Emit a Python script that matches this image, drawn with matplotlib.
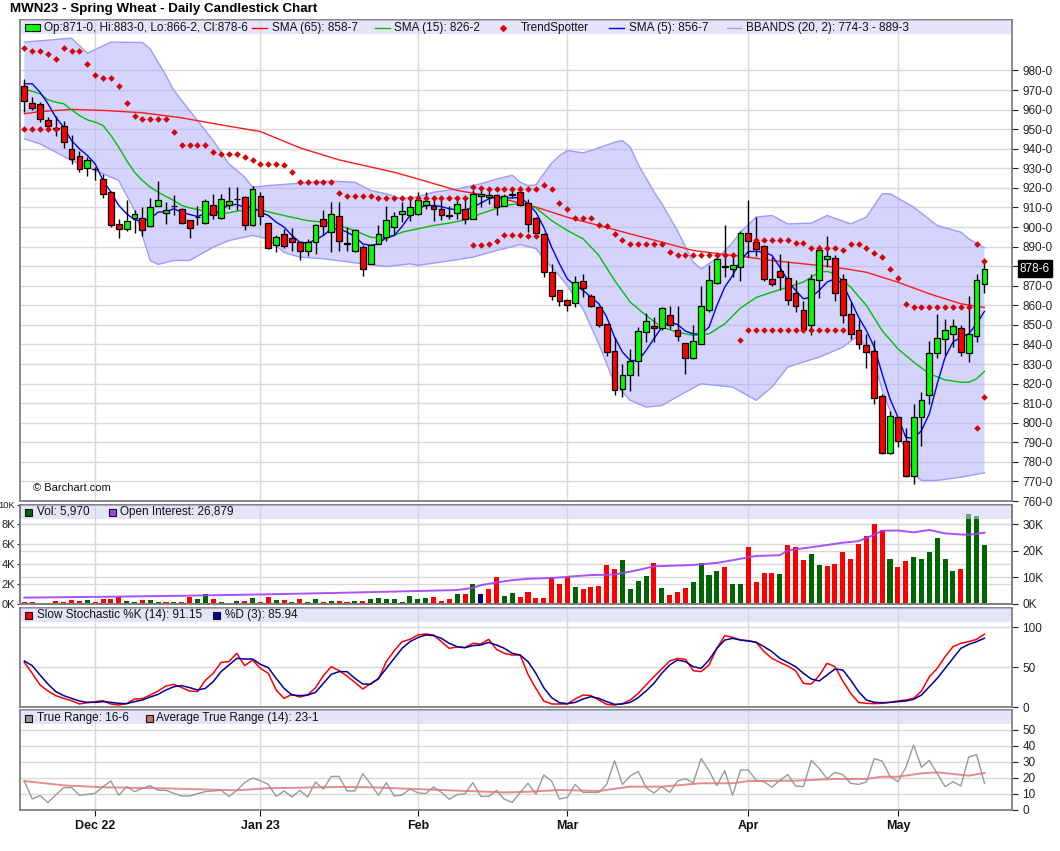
import numpy as np
import pandas as pd
import matplotlib
matplotlib.use("Agg")
import matplotlib.pyplot as plt
from matplotlib.patches import Rectangle
from matplotlib.lines import Line2D

plt.rcParams['font.family'] = ['Liberation Sans', 'DejaVu Sans']

# ---- data ----
holidays = ["2022-11-24", "2022-12-26", "2023-01-02", "2023-01-16", "2023-02-20", "2023-04-07"]
dates = pd.bdate_range("2022-11-17", "2023-05-16", freq="C", holidays=holidays)
month_labels = ["Dec 22", "Jan 23", "Feb", "Mar", "Apr", "May"]

opens = [972.3, 963.5, 963.0, 954.8, 950.4, 951.7, 940.0, 936.2, 930.3, 929.7,
         924.6, 917.8, 901.6, 899.1, 904.7, 904.7, 900.3, 910.8, 907.3, 910.7,
         909.3, 903.7, 905.2, 902.1, 911.3, 904.7, 911.2, 914.2, 915.3, 901.0,
         916.1, 902.2, 890.9, 896.5, 894.5, 892.6, 888.0, 892.3, 904.2, 897.4,
         905.7, 891.1, 887.5, 889.7, 881.2, 891.4, 894.8, 899.9, 906.8, 906.2,
         906.8, 911.4, 910.5, 909.3, 906.4, 907.1, 909.1, 904.2, 916.0, 915.6,
         916.5, 910.8, 916.4, 917.8, 912.4, 904.7, 896.5, 876.9, 867.6, 862.8,
         861.3, 872.3, 864.7, 859.1, 850.5, 836.8, 817.3, 824.5, 831.3, 846.6,
         849.2, 848.3, 855.0, 847.5, 840.8, 833.2, 840.3, 857.4, 871.3, 879.5,
         878.7, 879.5, 897.2, 892.6, 890.4, 873.5, 877.6, 874.1, 866.4, 857.7,
         849.7, 872.7, 883.6, 884.3, 873.5, 855.7, 847.5, 839.8, 836.8, 813.6,
         784.5, 802.9, 790.6, 772.9, 802.9, 814.3, 835.5, 842.9, 845.4, 848.5,
         835.7, 844.2, 871.0]
highs = [975.7, 966.7, 963.8, 956.1, 956.5, 954.1, 946.8, 938.8, 935.7, 930.9,
         927.2, 918.2, 904.2, 913.6, 908.9, 910.2, 914.8, 923.3, 912.7, 916.5,
         909.5, 903.8, 910.5, 914.4, 917.0, 917.0, 920.4, 920.4, 916.1, 920.9,
         917.8, 902.2, 895.7, 899.1, 899.4, 892.6, 894.0, 901.6, 908.5, 912.7,
         912.7, 900.0, 899.1, 890.6, 891.4, 900.8, 911.0, 907.6, 912.7, 914.4,
         917.8, 917.8, 915.3, 913.6, 911.0, 916.1, 913.6, 918.7, 919.5, 918.7,
         917.0, 917.0, 919.5, 921.2, 914.4, 905.1, 896.9, 881.2, 867.6, 863.3,
         875.2, 875.8, 865.9, 859.4, 850.5, 843.7, 830.1, 837.8, 848.8, 856.0,
         854.0, 859.1, 859.9, 859.9, 840.8, 849.7, 870.1, 880.4, 886.3, 900.8,
         886.3, 898.2, 913.6, 905.1, 890.6, 884.6, 886.3, 882.9, 872.7, 862.0,
         876.1, 890.6, 895.2, 885.8, 876.1, 861.6, 852.3, 845.4, 842.4, 814.8,
         805.8, 802.9, 797.4, 809.7, 815.6, 841.7, 855.7, 853.1, 853.1, 849.7,
         865.0, 876.1, 883.0]
lows = [958.7, 959.6, 953.6, 950.2, 946.3, 940.5, 932.3, 928.0, 926.3, 923.8,
        914.9, 900.0, 894.3, 898.2, 896.9, 895.3, 900.0, 910.7, 901.6, 905.9,
        901.5, 894.3, 900.8, 901.6, 904.2, 904.2, 909.3, 908.5, 898.6, 900.6,
        900.8, 888.9, 887.2, 889.4, 888.0, 883.3, 885.1, 886.3, 895.7, 887.2,
        888.0, 887.7, 887.2, 875.2, 880.9, 891.1, 893.1, 895.7, 902.5, 903.3,
        906.2, 909.3, 903.3, 903.7, 904.2, 904.2, 901.3, 903.9, 910.2, 911.9,
        905.9, 910.5, 915.3, 910.5, 897.4, 894.8, 874.7, 862.5, 859.9, 857.0,
        859.1, 864.5, 859.1, 848.8, 833.9, 814.4, 813.4, 816.1, 824.1, 841.2,
        841.2, 847.5, 848.0, 842.0, 824.7, 832.7, 840.0, 856.5, 871.0, 874.4,
        874.4, 872.3, 884.6, 885.0, 872.3, 869.8, 867.6, 860.3, 856.5, 846.3,
        844.6, 863.7, 879.5, 862.1, 850.9, 842.9, 837.8, 828.1, 809.7, 784.1,
        784.1, 787.5, 772.5, 768.8, 787.9, 809.7, 833.0, 834.4, 838.6, 833.9,
        831.0, 841.2, 866.25]
closes = [964.3, 960.9, 955.3, 951.7, 950.2, 943.5, 934.7, 929.7, 934.3, 929.5,
          917.0, 900.8, 899.1, 903.2, 906.7, 898.6, 910.2, 913.9, 908.8, 910.5,
          902.1, 899.6, 905.0, 913.4, 906.2, 914.4, 913.3, 914.4, 901.0, 919.5,
          905.4, 889.2, 894.8, 890.4, 892.3, 888.0, 892.6, 901.1, 900.4, 906.7,
          893.0, 892.0, 898.6, 878.6, 890.9, 896.5, 903.7, 905.7, 908.4, 910.3,
          913.9, 913.2, 909.3, 906.4, 905.4, 911.9, 904.2, 917.0, 917.0, 916.6,
          910.0, 916.0, 916.5, 911.4, 901.6, 897.0, 876.9, 864.9, 862.1, 860.3,
          872.0, 868.9, 859.4, 850.0, 836.1, 816.8, 824.5, 831.3, 847.0, 851.9,
          848.3, 858.7, 849.7, 844.1, 833.3, 841.7, 859.7, 873.0, 883.8, 879.6,
          880.7, 897.2, 892.8, 888.9, 873.4, 870.8, 874.7, 862.8, 859.7, 848.0,
          873.2, 888.4, 885.3, 866.2, 855.3, 845.4, 840.3, 836.1, 812.7, 784.5,
          803.4, 790.9, 772.9, 802.9, 811.7, 835.7, 843.4, 847.5, 849.2, 836.1,
          845.4, 873.0, 878.75]

sma5 = [973.2, 973.2, 968.9, 963.0, 956.1, 951.0, 944.2, 940.0, 936.6, 932.3,
        923.8, 917.8, 911.0, 906.8, 903.7, 903.0, 904.2, 907.6, 907.9, 909.3,
        907.6, 906.4, 905.4, 906.8, 906.4, 908.5, 911.5, 911.5, 910.2, 910.2,
        907.6, 905.9, 902.5, 900.0, 895.7, 892.3, 891.8, 893.5, 895.7, 899.1,
        899.1, 897.4, 895.2, 891.4, 890.6, 891.4, 894.8, 895.7, 900.3, 905.9,
        909.3, 911.0, 911.0, 910.5, 909.3, 908.8, 908.5, 910.2, 912.2, 914.4,
        915.3, 914.9, 914.8, 915.3, 911.9, 907.6, 899.9, 889.7, 881.2, 873.5,
        870.1, 867.6, 864.2, 860.8, 854.0, 843.7, 836.1, 831.8, 831.8, 836.9,
        842.9, 848.8, 851.4, 850.2, 846.8, 845.4, 845.4, 848.8, 859.9, 869.3,
        875.2, 882.9, 887.5, 887.6, 887.2, 885.5, 879.5, 872.7, 867.6, 863.3,
        864.2, 867.6, 871.9, 873.5, 871.0, 862.5, 854.0, 847.1, 838.6, 825.0,
        812.2, 802.9, 792.6, 791.8, 796.0, 804.6, 819.9, 833.5, 841.2, 843.7,
        845.4, 850.5, 856.875]

sma15_idx = [0, 2, 3, 4, 5, 6, 7, 8, 9, 10, 11, 12, 13, 14, 15, 16, 17, 18, 19, 20,
             21, 22, 23, 24, 25, 26, 27, 28, 29, 30, 32, 34, 36, 38, 40, 42, 44, 46, 48, 50,
             52, 54, 56, 58, 60, 61, 63, 65, 67, 69, 71, 73, 75, 77, 79, 81, 83, 85, 87, 89,
             91, 93, 95, 97, 99, 101, 102, 103, 105, 107, 109, 111, 113, 115, 117, 119, 120, 121, 122]
sma15_val = [970.6, 968.1, 965.0, 963.8, 963.0, 959.9, 957.0, 954.8, 953.6, 951.9,
             946.8, 940.8, 934.0, 928.0, 923.8, 920.4, 917.8, 915.6, 913.6, 911.0,
             909.8, 909.0, 908.0, 907.1, 906.8, 907.3, 908.1, 908.5, 908.8, 908.8,
             906.8, 905.0, 903.3, 902.5, 900.8, 898.2, 894.8, 894.0, 897.4, 899.1,
             900.8, 902.0, 903.7, 906.8, 909.5, 911.0, 912.0, 909.8, 903.3, 898.2,
             894.0, 885.5, 872.7, 861.6, 854.8, 848.8, 846.3, 844.6, 845.4, 850.5,
             858.6, 864.0, 866.7, 869.3, 871.9, 876.9, 877.3, 876.1, 869.3, 859.9,
             847.1, 837.8, 831.0, 825.0, 821.9, 820.7, 820.7, 822.4, 826.25]

sma65_idx = [0, 2, 6, 10, 15, 20, 25, 30, 35, 40, 47, 50, 55, 60, 65, 69, 73, 77, 81, 85,
             89, 91, 95, 99, 103, 107, 111, 115, 119, 122]
sma65_val = [957.9, 959.0, 960.1, 959.6, 958.4, 955.8, 952.2, 948.8, 940.5, 934.3,
             928.0, 924.6, 918.7, 915.3, 910.2, 905.0, 900.8, 896.5, 892.3, 888.0,
             886.0, 885.1, 882.9, 881.2, 879.5, 876.9, 871.8, 865.9, 860.8, 858.875]

bb_up_idx = [0, 6, 8, 11, 15, 16, 18, 19, 21, 24, 26, 28, 29, 31, 35, 39, 42, 44, 46, 48,
             50, 52, 55, 58, 60, 62, 63, 64, 65, 66, 67, 68, 69, 71, 72, 75, 76, 77, 78, 80,
             81, 83, 85, 86, 88, 90, 91, 93, 95, 97, 100, 102, 105, 107, 109, 110, 113, 116, 119, 120,
             122]
bb_up_val = [994.5, 996.5, 988.8, 994.5, 994.3, 991.0, 977.4, 969.8, 959.5, 944.2,
             932.3, 925.5, 920.4, 921.2, 922.4, 923.5, 922.9, 918.7, 917.0, 914.4,
             915.6, 917.8, 919.5, 922.1, 924.5, 926.5, 922.9, 921.2, 921.5, 927.2,
             932.6, 936.5, 939.1, 937.9, 939.1, 943.3, 944.2, 940.8, 932.0, 918.0,
             912.0, 898.0, 882.0, 878.6, 884.0, 892.0, 897.4, 905.1, 905.9, 901.6,
             902.0, 905.9, 901.6, 905.1, 917.0, 917.0, 910.2, 900.8, 897.4, 894.0,
             889.375]
bb_lo_idx = [0, 2, 6, 9, 12, 14, 16, 17, 19, 21, 24, 26, 29, 31, 33, 35, 38, 43, 46, 49,
             50, 53, 57, 60, 63, 65, 66, 68, 69, 71, 73, 75, 77, 79, 81, 84, 86, 90, 93, 95,
             97, 99, 101, 104, 106, 108, 109, 111, 113, 114, 116, 119, 122]
bb_lo_val = [945.1, 942.5, 934.0, 928.9, 923.8, 908.5, 882.9, 880.9, 882.9, 882.9,
             889.7, 893.1, 895.7, 894.0, 887.0, 884.6, 883.8, 881.2, 879.8, 881.2,
             880.4, 882.1, 884.6, 888.0, 891.0, 889.0, 884.0, 875.0, 870.0, 858.0,
             840.3, 819.9, 811.4, 808.0, 808.8, 815.6, 819.9, 818.2, 811.5, 818.2,
             828.4, 831.0, 833.5, 838.6, 844.6, 831.8, 816.5, 796.0, 773.9, 770.5,
             770.5, 772.2, 774.375]

# TrendSpotter dots (None = no dot on that day)
ts_hi = [991.6, 990.2, 990.2, 988.2, 986.0, 991.6, 990.2, 990.2, 983.4, 977.8,
         976.2, 976.2, 972.2, 963.5, 956.8, 955.3, 955.3, 955.3, 955.3, 948.6,
         942.0, 942.0, 942.0, 942.0, 938.4, 937.4, 937.4, 937.4, 935.7, 934.3,
         932.3, 932.3, 932.3, 931.8, 928.0, 922.9, 922.9, 922.9, 922.9, 922.9,
         917.3, 916.0, 916.0, 916.0, 916.0, 914.9, 914.9, 914.9, 914.9, 914.9,
         914.9, 914.9, 914.9, 914.9, 914.9, 914.9, 914.9, 920.7, 920.0, 919.5,
         919.5, 919.5, 919.5, 919.5, 919.5, 919.2, 921.6, 919.2, 912.4, 909.3,
         904.7, 904.7, 904.7, 901.1, 900.5, 896.2, 893.5, 891.4, 891.4, 891.4,
         891.4, 891.4, 887.3, 885.8, 885.8, 885.8, 885.8, 885.8, 885.8, 885.8,
         885.8, None, None, 893.5, 893.5, 893.5, 893.5, 893.5, 891.9, 891.9,
         889.4, 889.4, 889.4, 889.4, 888.4, 891.1, 891.1, 889.4, 886.8, 884.9,
         878.7, 874.1, 860.8, 859.3, 859.3, 859.3, 859.3, 859.3, 859.3, 859.3,
         859.3, 891.4, 882.9]
ts_lo = [950.2, 950.2, 950.2, 950.2, 950.2] + [None] * 52 + \
        [890.6, 890.6, 891.5, 893.1, 895.7, 895.7, 895.7, 895.5, 895.5] + [None] * 25 + \
        [842.4] + [847.5] * 13 + [None] * 16 + [797.4, 813.1]

volume = [200, 200, 100, 100, 300, 200, 400, 300, 400, 200,
          500, 500, 730, 300, 200, 400, 400, 200, 200, 200,
          200, 730, 500, 1000, 500, 200, 100, 300, 300, 600,
          200, 700, 400, 400, 200, 500, 200, 500, 200, 300,
          300, 200, 300, 300, 500, 600, 500, 500, 200, 800,
          500, 600, 700, 300, 500, 1000, 1000, 2000, 1000, 1500,
          2700, 800, 1100, 700, 1200, 570, 570, 2600, 2000, 2730,
          1700, 1500, 1700, 1800, 3900, 3500, 4400, 1500, 2300, 2800,
          4100, 1600, 900, 1200, 1600, 2200, 4100, 2900, 3300, 3700,
          2000, 2000, 5700, 2200, 3100, 3100, 3000, 5900, 5700, 4400,
          5000, 3900, 3800, 4000, 5200, 4500, 6000, 6800, 8000, 7400,
          4500, 3700, 4300, 4700, 4500, 5200, 6600, 4500, 3300, 3500,
          9000, 8800, 5970]
vol_dir = ("rrrrrrrrgr" "rrrggrggrg" "rrggrgrgrg" "rrgrgrggrg" "rrgrgggggg"
           "ggrrrgrgnr" "rggrr" "rrrrrgrrrr" "rggggrgrrr" "ggggrggrrr"
           "rgrrrggrrr" "rrrrrgrrgg" "ggggrggg")

oi_idx = [0, 11, 20, 30, 40, 50, 55, 57, 58, 60, 62, 64, 66, 68, 70, 72, 75, 78, 80, 85,
          88, 90, 92, 93, 96, 97, 99, 101, 104, 106, 108, 109, 111, 113, 115, 117, 119, 120, 122]
oi_val = [2400, 2750, 3100, 3600, 4200, 4900, 5250, 6100, 7100, 8100,
          9000, 9500, 9700, 10000, 10500, 10900, 11100, 12800, 14200, 14700,
          15500, 16500, 17600, 18100, 18400, 20200, 21000, 21800, 23100, 23700,
          26100, 27600, 27700, 27000, 27900, 26600, 26200, 26100, 26879]

stoch_k = [55.8, 42.1, 27.5, 20, 14.2, 10.8, 7.9, 3.75, 5.4, 6.7,
           7.9, 3.75, 2.5, 4.2, 10, 10.4, 15, 20, 26.25, 28.3,
           24.2, 20, 19.2, 33.3, 42.1, 55.8, 56.7, 67.1, 51.7, 58.75,
           48.3, 42.1, 21.25, 10.8, 15.8, 12.5, 15, 24.2, 39.2, 50.4,
           45.4, 38.75, 30.8, 22.5, 29.2, 35, 56.7, 70.4, 81.7, 84.6,
           90, 91.25, 90, 81.7, 73.3, 75, 74.2, 79.6, 78.75, 84.6,
           72.1, 67.1, 65, 65, 40.8, 23.3, 7.5, 3.75, 3.75, 3.75,
           10, 15, 14.2, 8.75, 3.3, 2.5, 4.2, 8.75, 17, 27.5,
           37.9, 47.5, 57.5, 60.8, 59.6, 45.4, 44.2, 52.5, 73.3, 89.2,
           87.1, 83.75, 82.9, 80.8, 69.2, 60.8, 55.8, 51.25, 45.4, 29.6,
           28.75, 39.2, 54.6, 50.4, 32.5, 17, 5.8, 4.6, 4.2, 4.6,
           5.8, 7.5, 8.75, 10.8, 20, 37.9, 48.3, 62.9, 75.4, 79.6,
           81.7, 84.6, 91.15]
stoch_d = [57.5, 51.7, 40, 28.75, 19.2, 14.2, 10.8, 7.5, 5.8, 5.8,
           6.7, 5.8, 4.6, 4.2, 6.7, 8.75, 12.5, 15.8, 21.25, 25.4,
           26.7, 24.2, 21.25, 23.3, 31.7, 44.2, 52.5, 60.8, 60, 60,
           53.3, 49.2, 35.8, 23.3, 15, 14.2, 15, 18.3, 29.6, 40.8,
           44.2, 44.2, 35.8, 28.75, 28.3, 35.8, 48.3, 60.8, 73.3, 81.7,
           86.7, 90, 89.2, 85.8, 79.6, 75.4, 74.2, 76.7, 77.5, 80.8,
           77.5, 73.3, 67.1, 65, 56.7, 42.1, 24.2, 11.7, 5.4, 4.2,
           5.8, 10, 12.9, 10.8, 6.7, 3.3, 3.75, 5.8, 11.7, 20,
           29.6, 42.1, 52.5, 58.75, 56.7, 50.4, 48.3, 58.75, 73.3, 83.75,
           85.8, 83.75, 82.5, 80.8, 75.4, 69.2, 60.8, 55.8, 50.4, 42.1,
           35, 32.5, 40, 47.5, 46.25, 33.75, 19.2, 8.75, 5.8, 5.4,
           5.8, 6.7, 7.5, 9.6, 15, 25.4, 35.8, 48.3, 60.8, 73.3,
           78.3, 81.7, 85.94]

true_range = [18.1, 6.9, 9.0, 4.6, 9.4, 14.0, 14.0, 9.2, 9.8, 10.4,
              14.6, 18.1, 9.2, 14.6, 11.5, 13.5, 15.2, 12.3, 12.3, 10.4,
              8.75, 8.75, 10.2, 11.5, 11.9, 12.3, 8.5, 12.3, 17.1, 20.0,
              18.3, 16.0, 8.5, 11.9, 8.1, 12.3, 8.1, 17.5, 13.1, 21.0,
              21.0, 11.9, 11.9, 22.7, 16.25, 9.2, 17.1, 8.75, 9.4, 13.1,
              10.8, 10.2, 14.4, 11.0, 6.7, 9.6, 10.2, 17.1, 8.5, 8.5,
              12.3, 6.7, 4.8, 11.0, 16.7, 9.8, 21.9, 18.1, 6.9, 7.9,
              16.0, 11.0, 11.0, 11.0, 16.0, 30.8, 16.0, 21.25, 24.2, 14.0,
              10.6, 14.6, 11.0, 18.1, 19.6, 17.1, 32.1, 24.6, 15.2, 24.6,
              9.2, 25.0, 25.0, 18.5, 17.7, 14.2, 18.5, 22.1, 15.0, 14.6,
              31.0, 26.0, 19.6, 23.5, 22.1, 16.7, 16.0, 17.5, 32.1, 30.6,
              21.0, 17.7, 26.5, 40.6, 26.7, 31.0, 22.7, 14.6, 17.7, 15.0,
              33.1, 34.6, 16.75]
atr_idx = [0, 5, 10, 18, 27, 31, 40, 44, 53, 61, 64, 68, 73, 77, 81, 86, 90, 92, 98, 103,
           107, 109, 111, 114, 116, 120, 122]
atr_val = [18.1, 15.4, 14.2, 13.5, 12.3, 13.6, 14.4, 14.2, 12.5, 11.0,
           11.4, 12.5, 11.9, 14.6, 14.6, 16.7, 16.7, 18.1, 18.3, 19.4,
           19.4, 20.8, 20.8, 22.9, 23.5, 21.5, 23.125]


def q8(v):
    # grain quote in eighths: 878.75 -> "878-6"
    whole = int(np.floor(v + 1e-9))
    return f"{whole}-{int(round((v - whole) * 8))}"


W, H = 1060, 851
L, R = 20, 1012
GRID = '#d9d9d9'
SPINE = '#808080'
x = np.arange(len(dates))
month_pos = [i for i in range(1, len(dates)) if dates[i].month != dates[i - 1].month]


def fx(px):
    return px / W


def fy(py):
    return 1 - py / H


fig = plt.figure(figsize=(10.6, 8.51), dpi=100)


def panel(top, bottom):
    ax = fig.add_axes([fx(L), fy(bottom), (R - L) / W, (bottom - top) / H])
    ax.set_xlim(-0.55, 125.5)
    ax.set_xticks(month_pos)
    ax.set_axisbelow(True)
    ax.grid(True, color=GRID, lw=1)
    for s in ax.spines.values():
        s.set_color(SPINE)
        s.set_linewidth(1.3)
    ax.tick_params(axis='x', length=0, labelbottom=False)
    ax.tick_params(axis='y', labelsize=8.5, length=4, colors='#222222', direction='out')
    return ax


ax_p = panel(20, 501)
ax_v = panel(504.5, 604)
ax_s = panel(608, 707)
ax_t = panel(710, 810)

# ---- price panel ----
ax_p.set_ylim(760, 1005.8)
pticks = list(range(760, 990, 10))
ax_p.yaxis.tick_right()
ax_p.set_yticks(pticks)
# the last-price tag sits over the nearest tick label, as on the site
ax_p.set_yticklabels(["" if abs(t - closes[-1]) < 5 else f"{t}-0" for t in pticks])

ax_p.fill(list(bb_up_idx) + bb_lo_idx[::-1], list(bb_up_val) + bb_lo_val[::-1],
          color='#aaaaff', alpha=0.5, lw=0, zorder=1)
ax_p.plot(bb_up_idx, bb_up_val, color='#9c9cf4', lw=1, zorder=1.5)
ax_p.plot(bb_lo_idx, bb_lo_val, color='#9c9cf4', lw=1, zorder=1.5)
ax_p.plot(sma65_idx, sma65_val, color='#ff1a1a', lw=1, zorder=2)
ax_p.plot(sma15_idx, sma15_val, color='#00c000', lw=1, zorder=2)
ax_p.plot(x, sma5, color='#0000ee', lw=1, zorder=2)

o = np.array(opens)
c = np.array(closes)
up = c >= o
ax_p.vlines(x, lows, highs, color='black', lw=1, zorder=3)
body_h = np.maximum(np.abs(c - o), 0.35)
ax_p.bar(x, body_h, bottom=np.minimum(o, c), width=0.74,
         color=np.where(up, '#00ff00', '#ff0000'), edgecolor='black', linewidth=0.9, zorder=3.5)

ts_hi_y = [np.nan if v is None else v for v in ts_hi]
ts_lo_y = [np.nan if v is None else v for v in ts_lo]
ax_p.plot(x, ts_hi_y, ls='none', marker='D', ms=2.9, color='#e00000', mec='#c00000', mew=0.4, zorder=4)
ax_p.plot(x, ts_lo_y, ls='none', marker='D', ms=2.9, color='#e00000', mec='#c00000', mew=0.4, zorder=4)

ax_p.text(1.008, closes[-1], q8(closes[-1]), transform=ax_p.get_yaxis_transform(),
          color='white', fontsize=8.5, va='center', ha='left', zorder=10, clip_on=False,
          bbox=dict(boxstyle='square,pad=0.2', fc='black', ec='black'))
fig.text(fx(33), fy(488), "\u00a9 Barchart.com", fontsize=8, va='center', ha='left', color='#111111')

# ---- volume / open interest ----
vcol = {'g': '#006400', 'r': '#ff0000', 'n': '#000080'}
ax_v.bar(x, volume, width=0.64, color=[vcol[d] for d in vol_dir], zorder=2)
ax_v.set_ylim(0, 10000)
vticks = [0, 2000, 4000, 6000, 8000, 10000]
ax_v.set_yticks(vticks)
ax_v.set_yticklabels([f"{t // 1000}K" for t in vticks])
ax_v.tick_params(axis='y', labelsize=8, length=2.5, pad=0.8)
ax_v.get_yticklabels()[-1].set_fontsize(6.8)
ax_oi = ax_v.twinx()
ax_oi.set_ylim(0, 37500)
oticks = [0, 10000, 20000, 30000]
ax_oi.set_yticks(oticks)
ax_oi.set_yticklabels([f"{t // 1000}K" for t in oticks])
ax_oi.tick_params(axis='y', labelsize=8.5, length=4, colors='#222222')
for s in ax_oi.spines.values():
    s.set_color(SPINE)
    s.set_linewidth(1.3)
for t in oticks[1:]:
    ax_v.axhline(t * 10000 / 37500, color=GRID, lw=1, zorder=0)
ax_oi.plot(oi_idx, oi_val, color='#a040f8', lw=1.4, alpha=0.9)

# ---- slow stochastic ----
ax_s.set_ylim(0, 123.75)
ax_s.yaxis.tick_right()
ax_s.set_yticks([0, 50, 100])
ax_s.plot(x, stoch_k, color='#ff0000', lw=1.1)
ax_s.plot(x, stoch_d, color='#000099', lw=1.1)

# ---- true range ----
ax_t.set_ylim(0, 62.5)
ax_t.yaxis.tick_right()
ax_t.set_yticks([0, 10, 20, 30, 40, 50])
ax_t.plot(x, true_range, color='#999999', lw=1)
ax_t.plot(atr_idx, atr_val, color='#e07070', lw=1.4, alpha=0.8)
ax_t.set_xticklabels(month_labels)
ax_t.tick_params(axis='x', length=4, labelbottom=True, labelsize=9, colors='#111111')
for lab in ax_t.get_xticklabels():
    lab.set_fontweight('bold')

# ---- title and legend strips ----
fig.text(fx(10), fy(9), "MWN23 - Spring Wheat - Daily Candlestick Chart",
         fontsize=9.6, fontweight='bold', va='center', ha='left')


def strip(top):
    fig.add_artist(Rectangle((fx(L + 0.7), fy(top + 14)), (R - L - 1.4) / W, 14 / H,
                             transform=fig.transFigure, fc='#d0d0f6', ec='none', alpha=0.55, zorder=2))


def txt(px, py, s):
    fig.text(fx(px), fy(py), s, fontsize=8.5, va='center', ha='left', zorder=4, color='#111111')


def box(px, py, color, w=7, h=7):
    fig.add_artist(Rectangle((fx(px), fy(py + h / 2)), w / W, h / H, transform=fig.transFigure,
                             fc=color, ec='#111111', lw=0.8, zorder=4))


def seg(px0, px1, py, color):
    fig.add_artist(Line2D([fx(px0), fx(px1)], [fy(py), fy(py)], transform=fig.transFigure,
                          color=color, lw=1, zorder=4))


for top in (20, 505, 608, 710):
    strip(top)

box(25, 27.5, '#00ff00', w=15)
txt(44, 28, f"Op:{q8(opens[-1])}, Hi:{q8(highs[-1])}, Lo:{q8(lows[-1])}, Cl:{q8(closes[-1])}")
seg(252, 267, 28, '#ff0000')
txt(272, 28, f"SMA (65): {q8(sma65_val[-1])}")
seg(375, 390, 28, '#00c000')
txt(394, 28, f"SMA (15): {q8(sma15_val[-1])}")
fig.add_artist(Line2D([fx(503)], [fy(28)], transform=fig.transFigure, ls='none', marker='D',
                      ms=2.9, color='#e00000', zorder=4))
txt(521, 28, "TrendSpotter")
seg(609, 624, 28, '#0000ee')
txt(629, 28, f"SMA (5): {q8(sma5[-1])}")
seg(727, 741, 28, '#9c9cf4')
txt(746, 28, f"BBANDS (20, 2): {q8(bb_lo_val[-1])} - {q8(bb_up_val[-1])}")

box(25, 512, '#006400')
txt(37, 512, f"Vol: {volume[-1]:,}")
box(109, 512, '#a040f8')
txt(120, 512, f"Open Interest: {oi_val[-1]:,}")

box(25, 615, '#ff0000')
txt(37, 615, f"Slow Stochastic %K (14): {stoch_k[-1]:.2f}")
box(213, 615, '#000099')
txt(225, 615, f"%D (3): {stoch_d[-1]:.2f}")

box(25, 718, '#999999')
txt(37, 718, f"True Range: {q8(true_range[-1])}")
box(146, 718, '#cd6b6b')
txt(156, 718, f"Average True Range (14): {q8(atr_val[-1])}")

fig.savefig("out.png", dpi=100)
